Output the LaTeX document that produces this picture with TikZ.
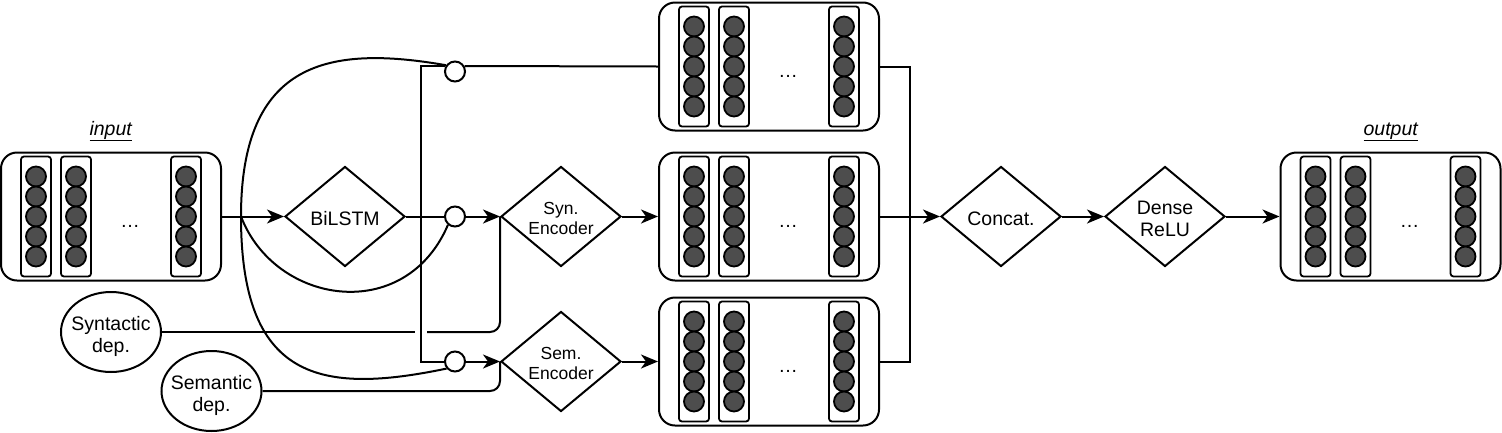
\documentclass[tikz,border=0pt]{standalone}
\usepackage{fontspec}
\setmainfont{Liberation Sans}
\usetikzlibrary{shapes.geometric,arrows.meta,calc}
\definecolor{neur}{HTML}{4D4D4D}
\tikzset{
 ln/.style={line width=2pt},
 arr/.style={ln, -{Stealth[length=17pt,width=14pt,inset=5pt]}},
 blockbox/.style={draw, line width=2pt, rounded corners=16pt, minimum width=220pt, minimum height=128pt, inner sep=0},
 colbox/.style={draw, line width=1.8pt, rounded corners=3pt, minimum width=30pt, minimum height=120pt, inner sep=0},
 diam/.style={draw, diamond, line width=2pt, minimum width=120pt, minimum height=100pt, inner sep=0, aspect=1.2},
 junc/.style={draw, circle, fill=white, line width=2pt, minimum size=20pt, inner sep=0},
 dep/.style={draw, ellipse, line width=2pt, minimum width=100pt, minimum height=80pt, inner sep=0},
 lbl/.style={font=\fontsize{19.5}{22}\selectfont, align=center, inner sep=0},
 slbl/.style={font=\fontsize{17.5}{20}\selectfont, align=center, inner sep=0},
}
\newcommand\nnblock[3]{%
 \node[blockbox] (#1) at (#2,#3) {};
 \foreach \dx [count=\k] in {-75,-35,75} {
   \node[colbox] (#1c\k) at ($(#1.center)+(\dx,0)$) {};
   \foreach \dy in {-40,-20,0,20,40}
     \filldraw[fill=neur, line width=1.8pt] ($(#1.center)+(\dx,\dy)$) circle[radius=10pt];
 }
 \node[lbl, anchor=base] (#1dots) at ($(#1.center)+(19,11)$) {…};
}
\begin{document}
\begin{tikzpicture}[x=1pt,y=-1pt]
\path[fill=white] (0,0) rectangle (1502,432);
\useasboundingbox (0,0) rectangle (1502,432);

\nnblock{inblk}{111}{216.5}
\nnblock{topblk}{769}{66.5}
\nnblock{midblk}{769}{216.5}
\nnblock{botblk}{769}{361.5}
\nnblock{outblk}{1390.5}{216.5}

\node[lbl, anchor=base] (inlbl) at (111,135) {\underline{\textit{input}}};
\node[lbl, anchor=base] (outlbl) at (1391,135) {\underline{\textit{output}}};

\node[diam] (bilstm) at (345,216.5) {};
\node[lbl] (bilstmt) at ($(bilstm.center)+(0,2.3)$) {BiLSTM};
\node[diam] (synenc) at (561,216.5) {};
\node[slbl] (synenct) at ($(synenc.center)+(0,2)$) {Syn.\\Encoder};
\node[diam] (semenc) at (561,361.5) {};
\node[slbl] (semenct) at ($(semenc.center)+(0,2)$) {Sem.\\Encoder};
\node[diam] (concat) at (1001,216.5) {};
\node[lbl] (concatt) at ($(concat.center)+(0,2.3)$) {Concat.};
\node[diam] (dense) at (1165,216.5) {};
\node[lbl] (denset) at ($(dense.center)+(0,2.8)$) {Dense\\ReLU};

\node[dep] (syndep) at (111,332) {};
\node[lbl] (syndept) at ($(syndep.center)+(0,4)$) {Syntactic\\dep.};
\node[dep] (semdep) at (211.5,391) {};
\node[lbl] (semdept) at ($(semdep.center)+(0,4)$) {Semantic\\dep.};

\node[junc] (topc) at (455,71.5) {};
\node[junc] (midc) at (455,216.5) {};
\node[junc] (botc) at (455,361.5) {};

\coordinate (split) at (241,216.5);
\coordinate (vx) at (421,216.5);
\coordinate (cj) at (909.5,216.5);

\draw[arr] (inblk.east) -- (bilstm.west);
\draw[ln] (split) .. controls (241,60) and (330,45) .. (topc.145);
\draw[ln] (split) .. controls (275,305) and (405,325) .. (midc.230);
\draw[ln] (split) .. controls (241,380) and (320,395) .. (botc.220);
\draw[ln] (bilstm.east) -- (midc.west);
\draw[ln] (bilstm.east) -- (vx) |- (topc.150);
\draw[ln] (vx) |- (botc.west);
\draw[ln] (topc.30) -- (topblk.west);
\draw[arr] (midc.east) -- (synenc.west);
\draw[arr] (botc.east) -- (semenc.west);
\draw[arr] (synenc.east) -- (midblk.west);
\draw[arr] (semenc.east) -- (botblk.west);
\draw[ln] (syndep.east) -- ($(vx |- syndep.east)+(-6,0)$);
\draw[ln, rounded corners=10pt] ($(vx |- syndep.east)+(6,0)$) -| (synenc.west);
\draw[ln, rounded corners=10pt] (semdep.east) -| (semenc.west);
\draw[ln] (topblk.east) -| (cj);
\draw[ln] (botblk.east) -| (cj);
\draw[arr] (midblk.east) -- (concat.west);
\draw[arr] (concat.east) -- (dense.west);
\draw[arr] (dense.east) -- (outblk.west);
\end{tikzpicture}
\end{document}
